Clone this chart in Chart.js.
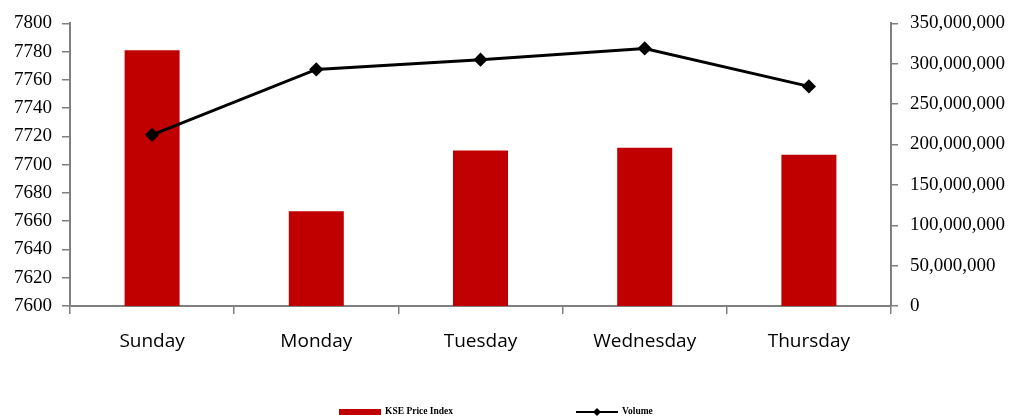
<!DOCTYPE html>
<html><head><meta charset="utf-8">
<script src="https://cdn.jsdelivr.net/npm/chart.js@4"></script>
<style>html,body{margin:0;padding:0;background:#fff}#wrap{width:1015px;height:419px}</style>
</head><body><div id="wrap"><canvas id="c" width="1015" height="419"></canvas></div>
<script>
const categories = ["Sunday","Monday","Tuesday","Wednesday","Thursday"];
const kseIndex = [7781, 7667, 7710, 7712, 7707];
const volume = [212000000, 293000000, 305000000, 319000000, 272000000];
const leftTicks = [7600,7620,7640,7660,7680,7700,7720,7740,7760,7780,7800];
const rightTicks = [0,50000000,100000000,150000000,200000000,250000000,300000000,350000000];

const legendPlugin = {
  id:'customLegend',
  afterDraw(chart){
    const ctx = chart.ctx;
    const bar = chart.data.datasets.find(d=>d.type==='bar');
    const line = chart.data.datasets.find(d=>d.type==='line');
    ctx.save();
    const y = 412;
    ctx.fillStyle = bar.backgroundColor;
    ctx.fillRect(339, y-3, 42, 6);
    ctx.fillStyle = '#000';
    ctx.font = 'bold 9.5px "Liberation Serif"';
    ctx.textBaseline = 'middle';
    ctx.fillText(bar.label, 385, y);
    ctx.strokeStyle = line.borderColor; ctx.lineWidth = 2;
    ctx.beginPath(); ctx.moveTo(576,y); ctx.lineTo(618,y); ctx.stroke();
    ctx.beginPath(); ctx.moveTo(597,y-4); ctx.lineTo(601,y); ctx.lineTo(597,y+4); ctx.lineTo(593,y); ctx.closePath(); ctx.fill();
    ctx.fillText(line.label, 622, y);
    ctx.restore();
  }
};

new Chart(document.getElementById('c'), {
  data: {
    labels: categories,
    datasets: [
      {type:'bar', label:'KSE Price Index', data: kseIndex, yAxisID:'y', backgroundColor:'#C00000', barPercentage:0.335, categoryPercentage:1, order:1},
      {type:'line', label:'Volume', data: volume, yAxisID:'y2', borderColor:'#000', backgroundColor:'#000', borderWidth:3, pointStyle:'rectRot', pointRadius:5, pointHoverRadius:5, tension:0, order:0}
    ]
  },
  options: {
    responsive:false, animation:false,
    layout:{padding:{top:4,bottom:0,left:0,right:0}},
    plugins:{legend:{display:false}, tooltip:{enabled:false}},
    scales:{
      x:{
        offset:true,
        grid:{display:true, drawOnChartArea:false, offset:true, color:'#808080', tickLength:8, lineWidth:1.5},
        border:{color:'#808080', width:2},
        ticks:{color:'#000', font:{family:'"Open Sans"', size:19}, padding:16},
        afterFit(s){ s.height = 113; }
      },
      y:{
        position:'left', min:7600, max:7800,
        afterBuildTicks(s){ s.ticks = leftTicks.map(v=>({value:v})); },
        grid:{display:true, drawOnChartArea:false, color:'#808080', tickLength:8, lineWidth:1.5},
        border:{color:'#808080', width:2},
        ticks:{color:'#000', font:{family:'"Liberation Serif"', size:19}, padding:10, callback:(v)=>String(v)},
        afterFit(s){ s.width = 70; }
      },
      y2:{
        position:'right', min:0, max:350000000,
        afterBuildTicks(s){ s.ticks = rightTicks.map(v=>({value:v})); },
        grid:{display:true, drawOnChartArea:false, color:'#808080', tickLength:7, lineWidth:1.5},
        border:{color:'#808080', width:2},
        ticks:{color:'#000', font:{family:'"Liberation Serif"', size:19}, padding:12,
          callback:(v)=>Number(v).toLocaleString('en-US')},
        afterFit(s){ s.width = 124; }
      }
    }
  },
  plugins:[legendPlugin]
});
</script></body></html>
